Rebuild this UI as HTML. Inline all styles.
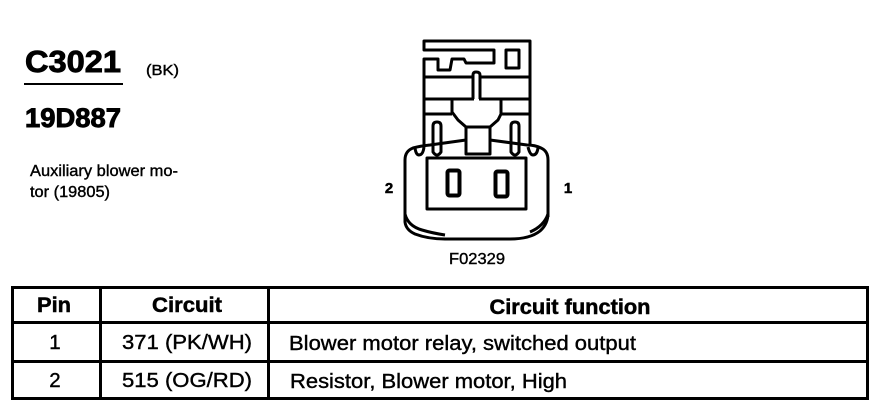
<!DOCTYPE html>
<html><head><meta charset="utf-8"><style>
html,body{margin:0;padding:0;background:#fff}
svg{display:block}
text{font-family:"Liberation Sans",Arial,sans-serif;fill:#000}
.b{font-weight:bold;stroke:#000;stroke-width:.5px}
.h{font-weight:bold;stroke:#000;stroke-width:.9px}
.s{stroke:#000;stroke-width:.4px}
</style></head><body>
<svg width="880" height="416" viewBox="0 0 880 416" xmlns="http://www.w3.org/2000/svg">
<rect width="880" height="416" fill="#fff"/>
<text x="25" y="72" class="h" font-size="31" textLength="96" lengthAdjust="spacingAndGlyphs">C3021</text>
<rect x="24" y="83" width="99" height="2"/>
<text x="146" y="75" class="s" font-size="14.500" textLength="33" lengthAdjust="spacingAndGlyphs">(BK)</text>
<text x="25" y="127" class="h" font-size="26.500" textLength="96" lengthAdjust="spacingAndGlyphs">19D887</text>
<text x="30" y="176" class="s" font-size="16" textLength="148" lengthAdjust="spacingAndGlyphs">Auxiliary blower mo-</text>
<text x="30" y="197" class="s" font-size="16" textLength="80" lengthAdjust="spacingAndGlyphs">tor (19805)</text>

<g fill="none" stroke="#000" stroke-width="3" stroke-linejoin="round">
<path d="M424 146V59H438V70H450L452 59H464L466 63H494V50H424V41H530V146"/>
<rect x="506" y="50" width="13" height="18"/>
<path d="M424 77H473M481 77H530"/>
<path d="M473 99V75Q473 72 476 72Q480 72 480 75V99"/>
<path d="M424 99H474M479 99H530"/>
<path d="M424 114H452M501 114H530"/>
<path d="M452 99V112L458 120L466 127H490L498 120L501 114V99"/>
<path d="M466 127V154H490V127"/>
<path d="M433 150V126Q433 122 437 122Q441 122 441 126V150"/>
<path d="M511 150V126Q511 122 515 122Q519 122 519 126V150"/>
<path d="M405 217V160Q405 151 413 148Q420 146 430 145L466 140M490 140L527 145Q535 145 541 148Q548 151 548 160V217"/>
<path d="M405 213V222Q406 230 415 234Q428 239 445 239H510Q530 239 540 231Q548 224 548 213"/>
<path d="M405 214Q408 226 422 230Q432 233 445 235M548 214Q544 226 530 232"/>
<path d="M433 150V152Q437 158 441 152V150M511 150V152Q515 158 519 152V150"/>
<path d="M415 148Q416 155 419 155Q423 155 424 147M528 147Q530 155 533 155Q537 155 538 148"/>
<rect x="427" y="158" width="99" height="51"/>
<rect x="447.500" y="170.500" width="12" height="25" rx="2" stroke-width="4"/>
<rect x="495.500" y="171.500" width="12" height="25" rx="2" stroke-width="4"/>
</g>
<text x="389" y="193" class="b" font-size="15" text-anchor="middle">2</text>
<text x="568" y="193" class="b" font-size="15" text-anchor="middle">1</text>
<text x="477" y="264" class="s" font-size="16" text-anchor="middle" textLength="56" lengthAdjust="spacingAndGlyphs">F02329</text>

<g fill="#000">
<rect x="11" y="286" width="858" height="3"/>
<rect x="11" y="397" width="858" height="3"/>
<rect x="11" y="321" width="858" height="3"/>
<rect x="11" y="360" width="858" height="3"/>
<rect x="11" y="286" width="3" height="114"/>
<rect x="99" y="286" width="3" height="114"/>
<rect x="267" y="286" width="3" height="114"/>
<rect x="866" y="286" width="3" height="114"/>
</g>
<text x="54" y="312" class="b" font-size="21" text-anchor="middle" textLength="34" lengthAdjust="spacingAndGlyphs">Pin</text>
<text x="187" y="312" class="b" font-size="21" text-anchor="middle" textLength="70" lengthAdjust="spacingAndGlyphs">Circuit</text>
<text x="570" y="314" class="b" font-size="21" text-anchor="middle" textLength="161" lengthAdjust="spacingAndGlyphs">Circuit function</text>
<text x="55" y="349" class="s" font-size="20.500" text-anchor="middle">1</text>
<text x="187" y="349" class="s" font-size="20.500" text-anchor="middle" textLength="130" lengthAdjust="spacingAndGlyphs">371 (PK/WH)</text>
<text x="289" y="350" class="s" font-size="20.500" textLength="347" lengthAdjust="spacingAndGlyphs">Blower motor relay, switched output</text>
<text x="55" y="387" class="s" font-size="20.500" text-anchor="middle">2</text>
<text x="187" y="387" class="s" font-size="20.500" text-anchor="middle" textLength="130" lengthAdjust="spacingAndGlyphs">515 (OG/RD)</text>
<text x="290" y="388" class="s" font-size="20.500" textLength="277" lengthAdjust="spacingAndGlyphs">Resistor, Blower motor, High</text>
</svg>
</body></html>
